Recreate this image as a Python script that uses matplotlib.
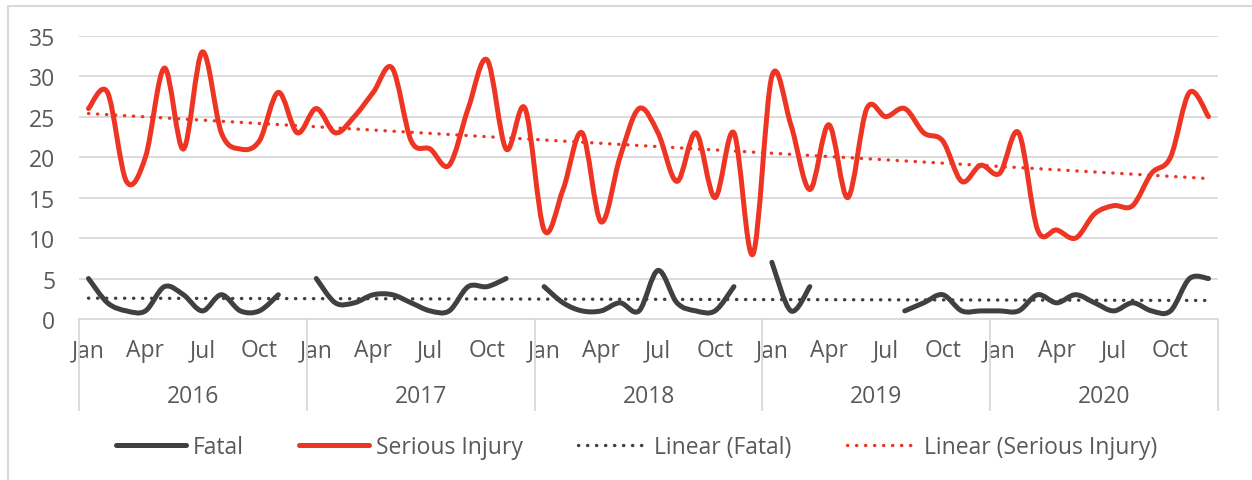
import numpy as np
import matplotlib
matplotlib.use("Agg")
import matplotlib.pyplot as plt
from matplotlib.path import Path
from matplotlib.patches import PathPatch, Rectangle
from matplotlib.lines import Line2D

plt.rcParams['font.family'] = ['Open Sans', 'DejaVu Sans']

# Monthly casualties, Jan 2016 - Dec 2020 (nan = no value for that month)
years = ["2016", "2017", "2018", "2019", "2020"]
month_names = ["Jan", "Apr", "Jul", "Oct"]

fatal = [5, 2, 1, 1, 4, 3, 1, 3, 1, 1, 3, np.nan,
         5, 2, 2, 3, 3, 2, 1, 1, 4, 4, 5, np.nan,
         4, 2, 1, 1, 2, 1, 6, 2, 1, 1, 4, np.nan,
         7, 1, 4, np.nan, np.nan, np.nan, np.nan, 1, 2, 3, 1, 1,
         1, 1, 3, 2, 3, 2, 1, 2, 1, 1, 5, 5]

serious = [26, 28, 17, 20, 31, 21, 33, 23, 21, 22, 28, 23,
           26, 23, 25, 28, 31, 22, 21, 19, 26, 32, 21, 26,
           11, 16, 23, 12, 20, 26, 23, 17, 23, 15, 23, 8,
           30, 24, 16, 24, 15, 26, 25, 26, 23, 22, 17, 19,
           18, 23, 11, 11, 10, 13, 14, 14, 18, 20, 28, 25]

RED = "#EE3524"
DARK = "#404040"
TEXT = "#595959"
GRID = "#D9D9D9"
FS = 16.5


def smooth_path(x, y):
    # Bezier through every point, tangents from neighbours (spreadsheet-style smoothing)
    verts = [(x[0], y[0])]
    codes = [Path.MOVETO]
    n = len(x)
    for i in range(n - 1):
        a = max(i - 1, 0)
        b = min(i + 2, n - 1)
        c1 = (x[i] + (x[i + 1] - x[a]) / 6, y[i] + (y[i + 1] - y[a]) / 6)
        c2 = (x[i + 1] - (x[b] - x[i]) / 6, y[i + 1] - (y[b] - y[i]) / 6)
        verts += [c1, c2, (x[i + 1], y[i + 1])]
        codes += [Path.CURVE4] * 3
    return Path(verts, codes)


def draw_series(ax, values, color):
    v = np.asarray(values, dtype=float)
    idx = np.arange(len(v))
    ok = ~np.isnan(v)
    # split into runs of consecutive months with data
    breaks = np.where(np.diff(ok.astype(int)) != 0)[0] + 1
    for seg in np.split(idx, breaks):
        if not ok[seg[0]] or len(seg) < 2:
            continue
        p = smooth_path(seg.astype(float), v[seg])
        ax.add_patch(PathPatch(p, fill=False, edgecolor=color, lw=3.6,
                               capstyle="round", joinstyle="round", zorder=3))


def trend(values):
    v = np.asarray(values, dtype=float)
    idx = np.arange(len(v))
    ok = ~np.isnan(v)
    k, b = np.polyfit(idx[ok], v[ok], 1)
    return idx, k * idx + b


DOT = (0, (0.1, 2.6))
DOT_LW = 2.4

fig = plt.figure(figsize=(12.52, 4.81), dpi=100)
ax = fig.add_axes([79 / 1252, (481 - 320) / 481, (1218 - 79) / 1252, (320 - 36.7) / 481])

# outer chart frame
fig.patches.append(Rectangle((8 / 1252, -0.1), 2, 1 - 7 / 481 + 0.1, transform=fig.transFigure,
                             fill=False, edgecolor=GRID, lw=1.5))

draw_series(ax, fatal, DARK)
draw_series(ax, serious, RED)

tx, ty = trend(fatal)
ax.plot(tx, ty, color=DARK, lw=DOT_LW, linestyle=DOT, dash_capstyle="round", zorder=4)
tx, ty = trend(serious)
ax.plot(tx, ty, color=RED, lw=DOT_LW, linestyle=DOT, dash_capstyle="round", zorder=4)

n = len(serious)
ax.set_xlim(-0.5, n - 0.5)
ax.set_ylim(0, 35)
ax.set_yticks(range(0, 36, 5))
ax.tick_params(axis="y", length=0, pad=17, labelsize=FS, labelcolor=TEXT)
ax.yaxis.grid(True, color=GRID, lw=1.3)
ax.set_axisbelow(True)
for s in ["top", "right", "left"]:
    ax.spines[s].set_visible(False)
ax.spines["bottom"].set_color(GRID)
ax.spines["bottom"].set_linewidth(1.3)

# month labels every quarter
ticks = [12 * y + m for y in range(len(years)) for m in (0, 3, 6, 9)]
ax.set_xticks(ticks, month_names * len(years))
ax.tick_params(axis="x", length=0, pad=14, labelsize=FS, labelcolor=TEXT)

# year labels and separators
xt = ax.get_xaxis_transform()
for i, yr in enumerate(years):
    ax.text(12 * i + 5.5, -0.271, yr, transform=xt, ha="center", va="center",
            fontsize=FS, color=TEXT)
ax.vlines([12 * i - 0.5 for i in range(len(years) + 1)], -0.325, 0, transform=xt,
          color=GRID, lw=1.3, clip_on=False)

handles = [
    Line2D([], [], color=DARK, lw=3.6, solid_capstyle="round"),
    Line2D([], [], color=RED, lw=3.6, solid_capstyle="round"),
    Line2D([], [], color=DARK, lw=DOT_LW, linestyle=DOT, dash_capstyle="round"),
    Line2D([], [], color=RED, lw=DOT_LW, linestyle=DOT, dash_capstyle="round"),
]
labels = ["Fatal", "Serious Injury", "Linear (Fatal)", "Linear (Serious Injury)"]
leg = fig.legend(handles, labels, ncol=4, loc="center", bbox_to_anchor=(636.5 / 1252, 1 - 447.7 / 481),
                 frameon=False, fontsize=FS, handlelength=3.05, handletextpad=0.3,
                 columnspacing=2.4, labelcolor=TEXT)

fig.savefig("out.png", dpi=100, facecolor="white")
